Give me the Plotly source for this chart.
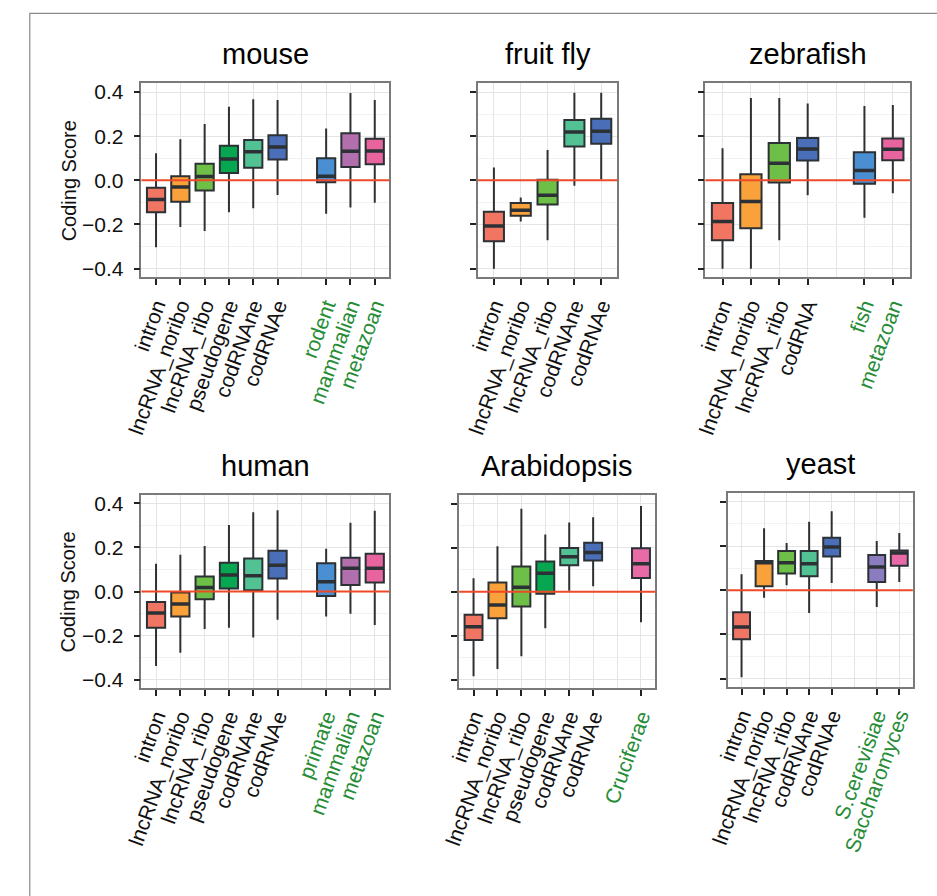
import plotly.graph_objects as go

# ---------------- data ----------------
# None marks the empty slot between the two groups of a panel
mouse_cats = ["intron", "lncRNA_noribo", "lncRNA_ribo", "pseudogene", "codRNAne", "codRNAe", None, "rodent", "mammalian", "metazoan"]
mouse_lo   = [-0.303, -0.211, -0.229, -0.144, -0.126, -0.066, None, -0.151, -0.123, -0.102]
mouse_q1   = [-0.145, -0.097, -0.046,  0.033,  0.057,  0.094, None, -0.009,  0.061,  0.073]
mouse_med  = [-0.087, -0.030,  0.018,  0.097,  0.130,  0.151, None,  0.019,  0.132,  0.133]
mouse_q3   = [-0.034,  0.019,  0.075,  0.157,  0.183,  0.204, None,  0.100,  0.214,  0.189]
mouse_hi   = [ 0.123,  0.186,  0.255,  0.334,  0.367,  0.364, None,  0.235,  0.396,  0.364]

fly_cats = ["intron", "lncRNA_noribo", "lncRNA_ribo", "codRNAne", "codRNAe"]
fly_lo   = [-0.401, -0.187, -0.271, -0.025, 0.004]
fly_q1   = [-0.276, -0.160, -0.109,  0.153, 0.166]
fly_med  = [-0.207, -0.135, -0.067,  0.219, 0.223]
fly_q3   = [-0.142, -0.103,  0.003,  0.273, 0.279]
fly_hi   = [ 0.058, -0.078,  0.138,  0.397, 0.397]

zebra_cats = ["intron", "lncRNA_noribo", "lncRNA_ribo", "codRNA", None, "fish", "metazoan"]
zebra_lo   = [-0.401, -0.401, -0.271, -0.067, None, -0.169, -0.058]
zebra_q1   = [-0.271, -0.217, -0.010,  0.090, None, -0.015,  0.091]
zebra_med  = [-0.186, -0.096,  0.078,  0.142, None,  0.045,  0.141]
zebra_q3   = [-0.103,  0.028,  0.169,  0.192, None,  0.127,  0.190]
zebra_hi   = [ 0.145,  0.373,  0.373,  0.348, None,  0.337,  0.342]

human_cats = ["intron", "lncRNA_noribo", "lncRNA_ribo", "pseudogene", "codRNAne", "codRNAe", None, "primate", "mammalian", "metazoan"]
human_lo   = [-0.338, -0.278, -0.170, -0.165, -0.209, -0.128, None, -0.114, -0.101, -0.152]
human_q1   = [-0.165, -0.114, -0.035,  0.014,  0.006,  0.059, None, -0.020,  0.029,  0.041]
human_med  = [-0.098, -0.057,  0.018,  0.075,  0.071,  0.119, None,  0.044,  0.105,  0.105]
human_q3   = [-0.048, -0.005,  0.068,  0.131,  0.150,  0.185, None,  0.128,  0.153,  0.171]
human_hi   = [ 0.126,  0.167,  0.207,  0.302,  0.360,  0.369, None,  0.194,  0.312,  0.366]

arab_cats = ["intron", "lncRNA_noribo", "lncRNA_ribo", "pseudogene", "codRNAne", "codRNAe", None, "Cruciferae"]
arab_lo   = [-0.384, -0.352, -0.294, -0.166, 0.004, 0.025, None, -0.139]
arab_q1   = [-0.219, -0.121, -0.067, -0.009, 0.120, 0.142, None,  0.063]
arab_med  = [-0.159, -0.060,  0.021,  0.084, 0.159, 0.178, None,  0.127]
arab_q3   = [-0.105,  0.042,  0.115,  0.138, 0.199, 0.223, None,  0.198]
arab_hi   = [ 0.061,  0.207,  0.378,  0.261, 0.315, 0.339, None,  0.390]

yeast_cats = ["intron", "lncRNA_noribo", "lncRNA_ribo", "codRNAne", "codRNAe", None, "S.cerevisiae", "Saccharomyces"]
yeast_lo   = [-0.394, -0.034, 0.022, -0.103, 0.033, None, -0.076, 0.037]
yeast_q1   = [-0.222,  0.018, 0.076,  0.063, 0.153, None,  0.037, 0.111]
yeast_med  = [-0.166,  0.124, 0.124,  0.120, 0.195, None,  0.105, 0.168]
yeast_q3   = [-0.100,  0.132, 0.177,  0.177, 0.237, None,  0.159, 0.180]
yeast_hi   = [ 0.072,  0.280, 0.213,  0.310, 0.357, None,  0.223, 0.259]

taxon_labels = ["rodent", "mammalian", "metazoan", "fish", "primate", "Cruciferae", "S.cerevisiae", "Saccharomyces"]

y_tickvals = [-0.4, -0.2, 0.0, 0.2, 0.4]
y_minorvals = [-0.3, -0.1, 0.1, 0.3]

# ---------------- styling ----------------
colors = {
    "intron": "#F07562", "lncRNA_noribo": "#F9A13A", "lncRNA_ribo": "#6DBF47",
    "pseudogene": "#07A650", "codRNAne": "#52C295", "codRNAe": "#4A6EB8",
    "codRNA": "#4A6EB8", "rodent": "#4A8FD1", "fish": "#4A8FD1", "primate": "#4A8FD1",
    "mammalian": "#B26FAD", "metazoan": "#E8649F", "Cruciferae": "#E86BA8",
    "S.cerevisiae": "#8B7BBF", "Saccharomyces": "#E86BA8",
}
GREEN = "#268C36"
OUTLINE = "#2C3135"
FONT = "Liberation Sans, Arial, Helvetica, sans-serif"
W, H = 937, 896
BOXW = 0.75

panels = [
    dict(title="mouse", cats=mouse_cats, lo=mouse_lo, q1=mouse_q1, med=mouse_med, q3=mouse_q3, hi=mouse_hi,
         px=(125, 378), py=(80.7, 276), ylab=True),
    dict(title="fruit fly", cats=fly_cats, lo=fly_lo, q1=fly_q1, med=fly_med, q3=fly_q3, hi=fly_hi,
         px=(468.3, 610.7), py=(80.7, 276), ylab=False),
    dict(title="zebrafish", cats=zebra_cats, lo=zebra_lo, q1=zebra_q1, med=zebra_med, q3=zebra_q3, hi=zebra_hi,
         px=(700.7, 909.3), py=(80.7, 276), ylab=False),
    dict(title="human", cats=human_cats, lo=human_lo, q1=human_q1, med=human_med, q3=human_q3, hi=human_hi,
         px=(125, 378), py=(494.3, 689.3), ylab=True),
    dict(title="Arabidopsis", cats=arab_cats, lo=arab_lo, q1=arab_q1, med=arab_med, q3=arab_q3, hi=arab_hi,
         px=(449.3, 649.5), py=(494.8, 689.3), ylab=False),
    dict(title="yeast", cats=yeast_cats, lo=yeast_lo, q1=yeast_q1, med=yeast_med, q3=yeast_q3, hi=yeast_hi,
         px=(723.7, 912.3), py=(492.7, 688.3), ylab=False),
]

fig = go.Figure()
layout = dict(
    width=W, height=H, margin=dict(l=0, r=0, t=0, b=0),
    paper_bgcolor="white", plot_bgcolor="white", showlegend=False,
    font=dict(family=FONT, color="#111111"),
)
annotations = []
shapes = []

for i, p in enumerate(panels):
    n = i + 1
    xa = "x" if n == 1 else f"x{n}"
    ya = "y" if n == 1 else f"y{n}"
    positions = list(range(1, len(p["cats"]) + 1))
    tickvals, ticktext, gaps = [], [], []
    mx, my = [], []
    for pos, cat, lo, q1, med, q3, hi in zip(positions, p["cats"], p["lo"], p["q1"], p["med"], p["q3"], p["hi"]):
        if cat is None:
            gaps.append(pos)
            continue
        tickvals.append(pos)
        ticktext.append(f'<span style="color:{GREEN}">{cat}</span>' if cat in taxon_labels else cat)
        fig.add_trace(go.Box(
            x=[pos], q1=[q1], median=[med], q3=[q3], lowerfence=[lo], upperfence=[hi],
            width=BOXW, whiskerwidth=0, fillcolor=colors[cat],
            line=dict(color=OUTLINE, width=2), boxpoints=False,
            xaxis=xa, yaxis=ya, hoverinfo="skip",
        ))
        mx += [pos - BOXW / 2, pos + BOXW / 2, None]
        my += [med, med, None]
    fig.add_trace(go.Scatter(x=mx, y=my, mode="lines", line=dict(color=OUTLINE, width=3.5),
                             xaxis=xa, yaxis=ya, hoverinfo="skip"))

    xkey = "xaxis" if n == 1 else f"xaxis{n}"
    ykey = "yaxis" if n == 1 else f"yaxis{n}"
    layout[xkey] = dict(
        domain=[p["px"][0] / W, p["px"][1] / W], anchor=ya,
        range=[0.4, len(p["cats"]) + 0.6],
        tickmode="array", tickvals=tickvals, ticktext=ticktext, tickangle=-70,
        tickfont=dict(size=21, family=FONT, color="#111111"),
        ticks="outside", ticklen=6, tickwidth=2, tickcolor="#222222",
        showgrid=True, gridcolor="#E4E4E4", gridwidth=1.2,
        minor=dict(tickmode="array", tickvals=gaps, showgrid=True, gridcolor="#E4E4E4", gridwidth=1.2, ticks=""),
        showline=True, linecolor="#7A7A7A", linewidth=1.5, mirror=True, zeroline=False,
    )
    layout[ykey] = dict(
        domain=[1 - p["py"][1] / H, 1 - p["py"][0] / H], anchor=xa,
        range=[-0.44, 0.44],
        tickmode="array", tickvals=y_tickvals,
        ticktext=[f"{v:.1f}".replace("-", "\u2212") for v in y_tickvals],
        showticklabels=p["ylab"], tickfont=dict(size=21, family=FONT, color="#111111"),
        ticks="outside", ticklen=6, tickwidth=2, tickcolor="#222222", ticklabelstandoff=6,
        showgrid=True, gridcolor="#E4E4E4", gridwidth=1.2,
        minor=dict(tickmode="array", tickvals=y_minorvals, showgrid=True, gridcolor="#F2F2F2", gridwidth=1, ticks=""),
        showline=True, linecolor="#7A7A7A", linewidth=1.5, mirror=True, zeroline=False,
    )
    # red reference line at zero
    shapes.append(dict(type="line", xref=f"{xa} domain", yref=ya, x0=0, x1=1, y0=0, y1=0,
                       line=dict(color="#EF4A28", width=2), layer="above"))
    # panel title
    annotations.append(dict(text=p["title"], xref="paper", yref="paper",
                            x=(p["px"][0] + p["px"][1]) / 2 / W, y=1 - (p["py"][0] - 11) / H,
                            xanchor="center", yanchor="bottom", showarrow=False,
                            font=dict(size=29, family=FONT, color="#000000")))
    if p["ylab"]:
        annotations.append(dict(text="Coding Score", xref="paper", yref="paper",
                                x=51 / W, y=1 - (p["py"][0] + p["py"][1]) / 2 / H,
                                xanchor="center", yanchor="middle", textangle=-90, showarrow=False,
                                font=dict(size=20, family=FONT, color="#111111")))

# outer frame
shapes.append(dict(type="rect", xref="paper", yref="paper", x0=11 / W, x1=1.01, y0=-0.01, y1=1 - 10.5 / H,
                   line=dict(color="#8A8A8A", width=1.2), fillcolor="rgba(0,0,0,0)", layer="below"))

layout["annotations"] = annotations
layout["shapes"] = shapes
fig.update_layout(**layout)
fig.write_html("out.html", config={"displayModeBar": False},
               post_script="document.body.style.margin='0px';")
